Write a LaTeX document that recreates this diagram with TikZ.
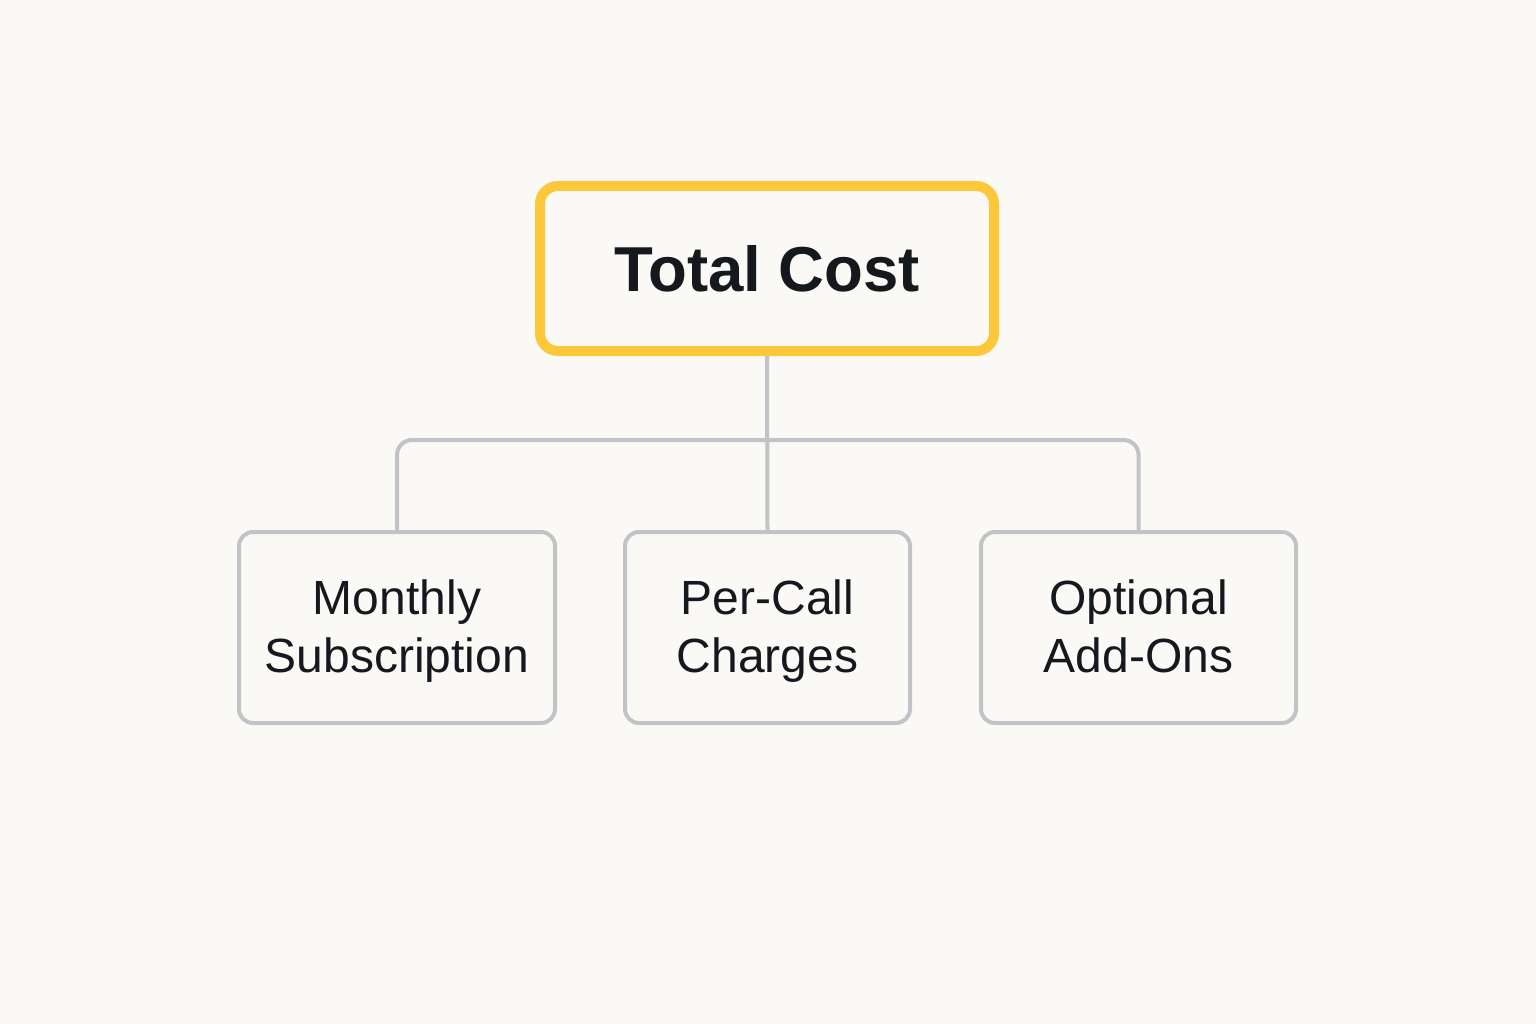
\documentclass[tikz,border=0pt]{standalone}
\usepackage{fontspec}
\setmainfont{Liberation Sans}
\definecolor{bg}{HTML}{FAF9F6}
\definecolor{gold}{HTML}{FCC83A}
\definecolor{linegray}{HTML}{C1C3C6}
\definecolor{ink}{HTML}{15191D}
\newcommand\lnstrut{\rule[-12pt]{0pt}{55pt}}
\begin{document}
\begin{tikzpicture}[x=1pt,y=-1pt,
  topbox/.style={draw=gold, line width=10pt, rounded corners=18pt, fill=bg,
    minimum width=454pt, minimum height=165pt, inner sep=0pt,
    font=\fontsize{63.5}{74}\selectfont\bfseries, text=ink},
  childbox/.style={draw=linegray, line width=4pt, rounded corners=14pt, fill=bg,
    minimum height=191pt, inner sep=0pt, align=center,
    font=\fontsize{48}{58}\selectfont, text=ink},
  conn/.style={draw=linegray, line width=4pt}]
\fill[bg] (0,0) rectangle (1536,1024);
\useasboundingbox (0,0) rectangle (1536,1024);
\node[topbox] (top) at (767,268.5) {Total Cost};
\node[childbox, minimum width=316pt] (left) at (397,627.5) {\lnstrut Monthly\\\lnstrut Subscription};
\node[childbox, minimum width=285pt] (mid) at (767.5,627.5) {\lnstrut Per-Call\\\lnstrut Charges};
\node[childbox, minimum width=315pt] (right) at (1138.5,627.5) {\lnstrut Optional\\\lnstrut Add-Ons};
\coordinate (bus) at (767,440);
\draw[conn] (top.south) -- (mid.north);
\draw[conn, rounded corners=15pt] (left.north) |- (bus) -| (right.north);
\end{tikzpicture}
\end{document}
